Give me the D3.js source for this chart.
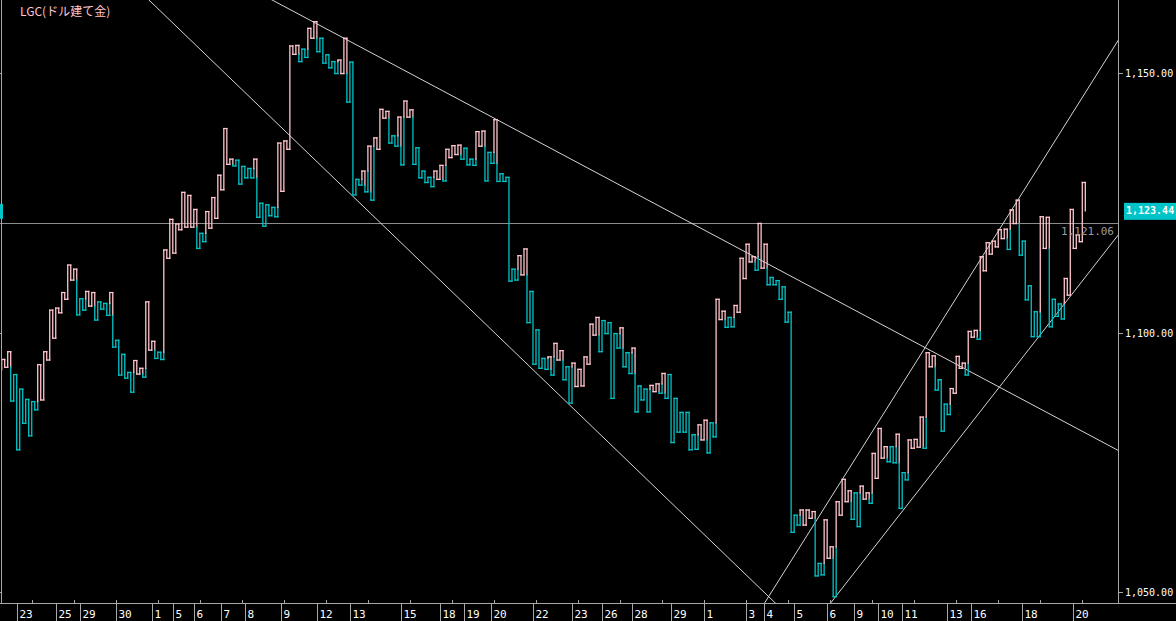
<!DOCTYPE html>
<html>
<head>
<meta charset="utf-8">
<script src="https://cdn.jsdelivr.net/npm/d3@7"></script>
<style>
html, body { margin: 0; padding: 0; background: #000; overflow: hidden; }
svg { display: block; }
text { font-family: "DejaVu Sans Mono", monospace; }
</style>
</head>
<body>
<svg id="chart"></svg>
<script>
// kagi turning levels, left to right (first value is the starting level)
var prices = [
  1092.8, 1094.8, 1093.3, 1096.3, 1086.8, 1091.9, 1077.4, 1089.1, 1082.5, 1087.1,
  1080.1, 1086.7, 1085.1, 1093.8, 1087.0, 1096.3, 1094.7, 1104.3, 1098.9, 1104.7,
  1103.8, 1107.7, 1106.4, 1113.0, 1110.1, 1112.2, 1103.4, 1106.5, 1104.3, 1107.9,
  1105.1, 1107.7, 1102.4, 1105.9, 1104.5, 1105.6, 1103.3, 1107.7, 1097.2, 1098.5,
  1091.8, 1095.8, 1091.2, 1092.3, 1088.5, 1094.6, 1092.0, 1093.1, 1091.4, 1105.9,
  1096.6, 1098.3, 1095.0, 1096.2, 1094.8, 1115.9, 1114.3, 1121.8, 1115.3, 1120.9,
  1119.8, 1127.0, 1120.3, 1126.4, 1120.3, 1123.7, 1116.2, 1119.1, 1117.5, 1123.3,
  1120.1, 1126.0, 1122.0, 1130.3, 1127.5, 1139.3, 1132.4, 1133.4, 1132.1, 1133.2,
  1128.6, 1132.0, 1129.8, 1131.6, 1129.8, 1133.4, 1122.2, 1124.9, 1120.5, 1124.6,
  1122.5, 1124.1, 1122.3, 1136.5, 1127.2, 1136.9, 1135.3, 1155.2, 1153.6, 1155.3,
  1152.2, 1154.6, 1153.0, 1158.6, 1156.7, 1159.9, 1154.1, 1156.7, 1151.9, 1153.5,
  1151.0, 1152.2, 1149.9, 1152.5, 1149.9, 1156.7, 1144.4, 1152.1, 1126.5, 1129.5,
  1128.4, 1131.1, 1127.1, 1135.9, 1125.5, 1137.5, 1135.3, 1143.0, 1141.3, 1142.6,
  1136.5, 1137.9, 1135.9, 1141.5, 1132.3, 1144.6, 1141.5, 1142.9, 1132.4, 1135.6,
  1129.8, 1131.1, 1128.9, 1129.9, 1128.1, 1131.1, 1129.5, 1132.2, 1129.2, 1135.3,
  1133.7, 1136.0, 1134.3, 1136.1, 1133.4, 1135.5, 1132.3, 1133.4, 1132.2, 1138.7,
  1135.9, 1138.8, 1129.2, 1134.7, 1132.6, 1141.0, 1129.1, 1130.6, 1129.1, 1129.9,
  1109.9, 1112.2, 1110.1, 1114.8, 1111.1, 1116.1, 1101.9, 1107.9, 1093.9, 1100.5,
  1093.1, 1095.0, 1092.9, 1095.3, 1091.8, 1097.9, 1094.7, 1096.5, 1090.9, 1093.4,
  1086.4, 1094.1, 1089.6, 1092.9, 1089.7, 1095.3, 1093.9, 1101.6, 1099.5, 1102.9,
  1096.3, 1102.3, 1099.8, 1101.9, 1087.3, 1099.8, 1097.0, 1100.9, 1093.4, 1096.1,
  1092.1, 1097.0, 1084.7, 1089.7, 1087.0, 1089.1, 1084.7, 1089.8, 1088.6, 1090.1,
  1088.3, 1092.1, 1087.3, 1091.9, 1078.8, 1087.3, 1080.8, 1084.6, 1080.8, 1084.6,
  1077.4, 1080.3, 1077.5, 1082.2, 1079.3, 1083.1, 1076.8, 1082.6, 1079.9, 1106.4,
  1102.5, 1104.1, 1101.0, 1102.9, 1101.1, 1105.2, 1103.9, 1114.3, 1110.4, 1117.0,
  1113.6, 1114.6, 1112.0, 1121.0, 1112.4, 1117.0, 1109.2, 1110.6, 1109.2, 1110.0,
  1106.4, 1108.8, 1102.0, 1103.9, 1061.5, 1064.8, 1062.9, 1065.8, 1062.9, 1065.8,
  1064.2, 1065.5, 1053.1, 1055.5, 1053.3, 1063.9, 1056.5, 1058.7, 1049.1, 1067.4,
  1064.8, 1071.7, 1067.4, 1069.5, 1064.0, 1069.1, 1062.6, 1070.4, 1067.9, 1069.1,
  1067.1, 1076.7, 1071.9, 1081.5, 1075.8, 1078.0, 1075.1, 1078.0, 1074.9, 1080.4,
  1066.1, 1073.0, 1071.6, 1079.3, 1077.7, 1079.4, 1077.9, 1083.7, 1077.7, 1096.1,
  1093.4, 1095.5, 1088.9, 1090.9, 1081.0, 1086.2, 1084.2, 1089.2, 1088.3, 1095.4,
  1093.1, 1094.1, 1091.8, 1100.2, 1099.1, 1100.4, 1098.7, 1114.6, 1111.9, 1117.3,
  1115.1, 1117.6, 1116.5, 1119.8, 1118.1, 1119.9, 1116.0, 1123.6, 1121.0, 1125.5,
  1114.9, 1117.6, 1106.3, 1109.0, 1099.2, 1104.0, 1099.2, 1122.3, 1116.2, 1122.2,
  1101.1, 1106.4, 1103.1, 1105.5, 1102.6, 1110.4, 1107.2, 1123.7, 1116.2, 1118.8,
  1117.5, 1128.9, 1123.44
];

// date labels on the bottom axis and the kagi column where each one starts
var dayLabels = ["23", "25", "29", "30", "1", "5", "6", "7", "8", "9", "12", "13", "15", "18", "19", "20", "22",
                 "23", "26", "28", "29", "1", "3", "4", "5", "6", "9", "10", "11", "13", "16", "18", "20"];
var dayCols = [5, 18, 26, 38, 50, 57, 64, 73, 81, 93, 105, 116, 133, 146, 154, 163, 177,
               190, 200, 210, 223, 234, 248, 254, 264, 275, 284, 292, 300, 315, 323, 340, 357];

var priceTicks = [1050, 1100, 1150];
var lastPrice = 1123.44;
var levelPrice = 1121.06;
var title = "LGC(ドル建て金)";

// hand drawn trend lines, two anchor points each: [column, price]
var trendLines = [
  [[54.2, 1161.2], [208.3, 1075.4]],
  [[99.4, 1161.2], [362.8, 1080.1]],
  [[254.4, 1048.1], [344.8, 1131.3]],
  [[297.8, 1063.9], [362.8, 1112.0]]
];

var width = 1176, height = 621;
var plotRight = 1118, plotBottom = 603;
var pink = "#ffc4cc", cyan = "#00c4c8", grid = "#a8a8a8";

var svg = d3.select("#chart").attr("width", width).attr("height", height);

var nCols = prices.length - 2;
var x = d3.scaleLinear().domain([0, nCols]).range([1.7, 1085.3]);
var y = d3.scaleLinear().domain([1050, 1150]).range([592, 73]);

svg.append("defs").append("clipPath").attr("id", "plot")
  .append("rect").attr("x", 0).attr("y", 0).attr("width", plotRight).attr("height", plotBottom);

// kagi: colour flips to pink above the last shoulder, to cyan below the last waist
function kagiSegments(vals) {
  var segs = [];
  var yang = true, hi = vals[0], lo = vals[0];
  for (var i = 1; i < vals.length; i++) {
    var c = i - 1, a = vals[i - 1], b = vals[i];
    if (b > a) {
      if (!yang && b > hi) {
        segs.push({x1: c, y1: a, x2: c, y2: hi, yang: false});
        segs.push({x1: c, y1: hi, x2: c, y2: b, yang: true});
        yang = true;
      } else {
        segs.push({x1: c, y1: a, x2: c, y2: b, yang: yang});
      }
      hi = b;
    } else {
      if (yang && b < lo) {
        segs.push({x1: c, y1: a, x2: c, y2: lo, yang: true});
        segs.push({x1: c, y1: lo, x2: c, y2: b, yang: false});
        yang = false;
      } else {
        segs.push({x1: c, y1: a, x2: c, y2: b, yang: yang});
      }
      lo = b;
    }
    if (i < vals.length - 1) segs.push({x1: c, y1: b, x2: c + 1, y2: b, yang: yang});
  }
  return segs;
}

var plot = svg.append("g").attr("clip-path", "url(#plot)");

// level line
plot.append("line")
  .attr("x1", 0).attr("x2", plotRight)
  .attr("y1", Math.round(y(levelPrice)) + 0.5).attr("y2", Math.round(y(levelPrice)) + 0.5)
  .attr("stroke", "#8c8c8c").attr("stroke-width", 1);

// trend lines, extended across the whole plot and clipped
plot.selectAll("line.trend")
  .data(trendLines)
  .enter().append("line")
    .attr("class", "trend")
    .each(function(d) {
      var slope = (d[1][1] - d[0][1]) / (d[1][0] - d[0][0]);
      var c0 = -60, c1 = nCols + 60;
      d3.select(this)
        .attr("x1", x(c0)).attr("y1", y(d[0][1] + slope * (c0 - d[0][0])))
        .attr("x2", x(c1)).attr("y2", y(d[0][1] + slope * (c1 - d[0][0])));
    })
    .attr("stroke", "#d4d4d4").attr("stroke-width", 1);

var segs = kagiSegments(prices);
plot.selectAll("line.kagi")
  .data(segs)
  .enter().append("line")
    .attr("class", "kagi")
    .attr("x1", (d) => x(d.x1)).attr("x2", (d) => x(d.x2))
    .attr("y1", (d) => y(d.y1)).attr("y2", (d) => y(d.y2))
    .attr("stroke", (d) => d.yang ? pink : cyan)
    .attr("stroke-width", 1.3)
    .attr("stroke-linecap", "square");

// frame
svg.append("line").attr("x1", 1.5).attr("x2", 1.5).attr("y1", 0).attr("y2", plotBottom)
  .attr("stroke", grid);
svg.append("line").attr("x1", plotRight + 0.5).attr("x2", plotRight + 0.5).attr("y1", 0).attr("y2", plotBottom)
  .attr("stroke", grid);
svg.append("line").attr("x1", 0).attr("x2", width).attr("y1", plotBottom + 0.5).attr("y2", plotBottom + 0.5)
  .attr("stroke", grid);

// price axis
var yTicks = svg.append("g").selectAll("g")
  .data(priceTicks)
  .enter().append("g")
    .attr("transform", (d) => `translate(0, ${Math.round(y(d)) + 0.5})`);
yTicks.append("line").attr("x1", plotRight).attr("x2", plotRight + 5).attr("stroke", grid);
yTicks.append("line").attr("x1", 0).attr("x2", 2).attr("stroke", grid);
yTicks.append("text")
  .attr("x", plotRight + 7).attr("dy", "0.35em")
  .attr("fill", "#fff").attr("font-size", 10)
  .text((d) => d3.format(",.2f")(d));

// time axis: small regular ticks plus day separators
svg.append("g").selectAll("line")
  .data(d3.range(10, nCols, 14))
  .enter().append("line")
    .attr("x1", (d) => Math.round(x(d)) + 0.5).attr("x2", (d) => Math.round(x(d)) + 0.5)
    .attr("y1", plotBottom - 3).attr("y2", plotBottom)
    .attr("stroke", grid);

var days = svg.append("g").selectAll("g")
  .data(dayCols)
  .enter().append("g")
    .attr("transform", (d) => `translate(${Math.round(x(d)) + 0.5}, 0)`);
days.append("line").attr("y1", plotBottom).attr("y2", height).attr("stroke", grid);
days.append("text")
  .attr("x", 2).attr("y", 618)
  .attr("fill", "#fff").attr("font-size", 11)
  .text((d, i) => dayLabels[i]);

// last price markers
var yl = y(lastPrice);
svg.append("rect").attr("x", 0).attr("y", yl - 7).attr("width", 3).attr("height", 15).attr("fill", cyan);
svg.append("rect").attr("x", plotRight + 6).attr("y", yl - 8).attr("width", width - plotRight - 6).attr("height", 17)
  .attr("fill", cyan);
svg.append("text")
  .attr("x", plotRight + 8).attr("y", yl).attr("dy", "0.35em")
  .attr("fill", "#fff").attr("font-size", 10).attr("font-weight", "bold")
  .text(d3.format(",.2f")(lastPrice));

// level label
svg.append("text")
  .attr("x", plotRight - 4).attr("y", y(levelPrice) + 12)
  .attr("text-anchor", "end")
  .attr("fill", "#9a9a9a").attr("font-size", 11)
  .text(d3.format(",.2f")(levelPrice));

svg.append("text")
  .attr("x", 20).attr("y", 16)
  .attr("fill", pink).attr("font-size", 12)
  .style("font-family", "'Noto Sans CJK JP', sans-serif")
  .text(title);
</script>
</body>
</html>
